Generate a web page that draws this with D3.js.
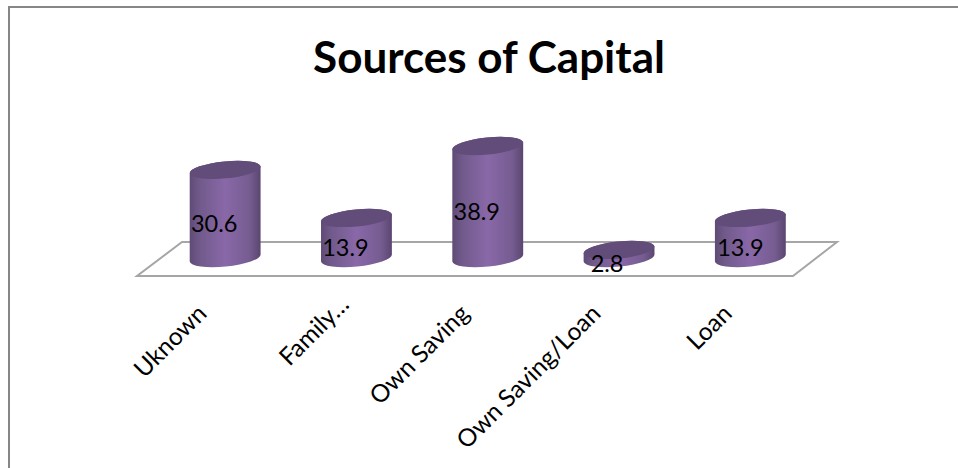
<!DOCTYPE html>
<html>
<head>
<meta charset="utf-8">
<script src="https://cdn.jsdelivr.net/npm/d3@7"></script>
<style>
  html, body { margin: 0; padding: 0; background: #fff; }
  svg { display: block; }
  text { font-family: Lato, "Open Sans", sans-serif; fill: #000; }
</style>
</head>
<body>
<div id="chart"></div>
<script>
const titleText = "Sources of Capital";
const categories = ["Uknown", "Family…", "Own Saving", "Own Saving/Loan", "Loan"];
const values = [30.6, 13.9, 38.9, 2.8, 13.9];

const width = 958, height = 468;
const svg = d3.select("#chart").append("svg")
  .attr("width", width).attr("height", height);

const x = d3.scaleBand().domain(categories).range([159.5, 816]).paddingInner(0).paddingOuter(0);
const y = d3.scaleLinear().domain([0, 38.9]).range([258, 146]);

// horizontal shading that gives the cylinder wall its roundness
const grad = svg.append("defs").append("linearGradient").attr("id", "wall");
grad.selectAll("stop")
  .data([[0, "#5f4b76"], [0.14, "#715a8b"], [0.5, "#8968a8"], [0.85, "#755c90"], [1, "#5a4670"]])
  .join("stop")
  .attr("offset", d => d[0]).attr("stop-color", d => d[1]);

// chart frame: only the top and left edges are visible
svg.append("path").attr("d", `M9,${height}V7H${width}`)
  .attr("fill", "none").attr("stroke", "#868686").attr("stroke-width", 2);

// floor of the 3D plot
const floorY = [y(0) + 18, y(0) - 16];
svg.append("path")
  .attr("d", `M137,${floorY[0]}H793L837,${floorY[1]}H182Z`)
  .attr("fill", "none").attr("stroke", "#a6a6a6").attr("stroke-width", 2);

const rx = 35.6, ry = 8.5, tilt = -5.6;
const dxEnd = rx * Math.cos(tilt * Math.PI / 180);
const dyEnd = rx * Math.sin(tilt * Math.PI / 180);

const bars = svg.selectAll("g.bar")
  .data(categories.map((c, i) => ({ c, v: values[i] })))
  .join("g").attr("class", "bar")
  .attr("transform", d => `translate(${x(d.c) + x.bandwidth() / 2},0)`);

// wall: left edge down, lower rim, right edge up, closed over the top rim
bars.append("path")
  .attr("fill", "url(#wall)")
  .attr("d", d => {
    const t = y(d.v), b = y(0);
    return `M${-dxEnd},${t - dyEnd}L${-dxEnd},${b - dyEnd}` +
      `A${rx},${ry} ${tilt} 0 0 ${dxEnd},${b + dyEnd}` +
      `L${dxEnd},${t + dyEnd}` +
      `A${rx},${ry} ${tilt} 0 0 ${-dxEnd},${t - dyEnd}Z`;
  });

// top cap
bars.append("ellipse")
  .attr("rx", rx).attr("ry", ry)
  .attr("fill", "#614c7a")
  .attr("transform", d => `translate(0,${y(d.v)}) rotate(${tilt})`);

// value labels sit at the middle of each column
const labelOffset = [-11, -11, -11, -12, -10];
bars.append("text")
  .attr("x", (d, i) => labelOffset[i])
  .attr("y", d => y(d.v / 2) + 10)
  .attr("dy", "0.34em")
  .attr("text-anchor", "middle")
  .attr("font-size", 23.5)
  .text(d => d.v);

// category axis with slanted labels; the truncated label sits closer to its column
const axis = svg.append("g")
  .attr("transform", `translate(0,${y(0) + 18})`)
  .call(d3.axisBottom(x).tickSize(0));
axis.select(".domain").remove();
axis.selectAll(".tick text")
  .attr("font-family", "Lato")
  .attr("font-size", 24.5)
  .attr("fill", "#000")
  .attr("text-anchor", "end")
  .attr("x", 0).attr("dy", 0).attr("y", 0)
  .attr("transform", d => d.endsWith("…")
    ? "translate(-6,30) rotate(-45)"
    : "translate(-17,39) rotate(-45)");

svg.append("text")
  .attr("x", 489).attr("y", 73)
  .attr("text-anchor", "middle")
  .attr("font-size", 44).attr("font-weight", 700)
  .text(titleText);
</script>
</body>
</html>
